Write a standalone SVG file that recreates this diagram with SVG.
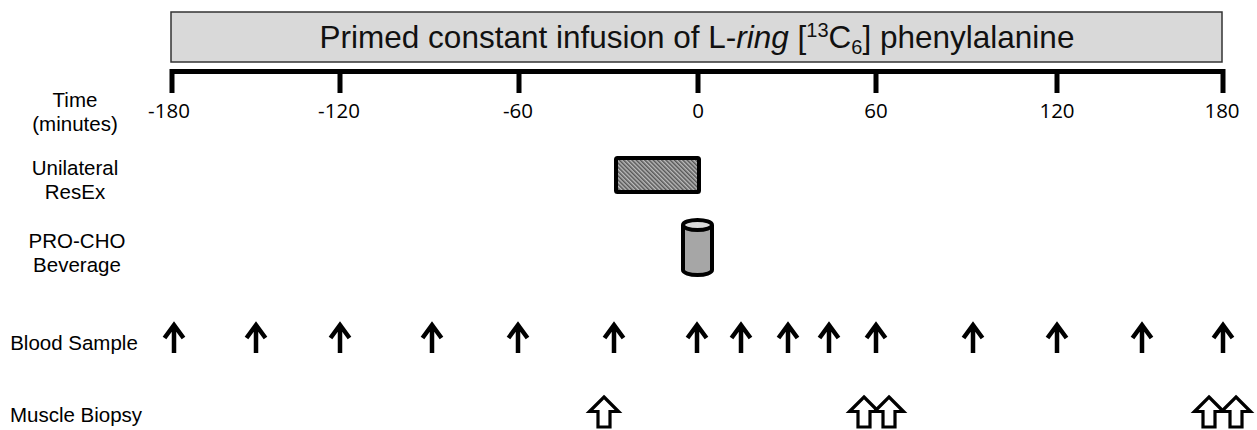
<svg xmlns="http://www.w3.org/2000/svg" width="1257" height="430" viewBox="0 0 1257 430">
<style>
.lbl{font-family:"Liberation Sans",Arial,sans-serif;font-size:20.5px;fill:#000;text-anchor:middle}
.tick{font-family:"Open Sans","Liberation Sans",sans-serif;font-size:20.5px;fill:#000;text-anchor:middle}
.title{font-family:"Liberation Sans",Arial,sans-serif;font-size:31.5px;fill:#111;text-anchor:middle}
.axis{fill:none;stroke:#000;stroke-width:5}
.blood{fill:none;stroke:#000;stroke-width:4.5;stroke-linejoin:miter}
.biopsy{fill:#fff;stroke:#000;stroke-width:3.2;stroke-linejoin:miter}
</style>
<defs>
<pattern id="hatch" patternUnits="userSpaceOnUse" width="3" height="3" patternTransform="rotate(-45)">
<rect width="3" height="3" fill="#bcbcbc"/>
<line x1="0.8" y1="0" x2="0.8" y2="3" stroke="#444" stroke-width="1.3"/>
</pattern>
<path id="bArrow" class="blood" d="M0,32 V4 M-9.5,17 L0,4 L9.5,17"/>
<polygon id="oArrow" class="biopsy" points="0,0 14.5,14.5 6,14.5 6,30 -6,30 -6,14.5 -14.5,14.5"/>
</defs>

<g id="infusion">
<rect x="171" y="12" width="1051" height="50" fill="#d9d9d9" stroke="#333" stroke-width="1.5"/>
<text class="title" x="697" y="48">Primed constant infusion of L-<tspan font-style="italic">ring</tspan> [<tspan dy="-11" font-size="20">13</tspan><tspan dy="11">C</tspan><tspan dy="6" font-size="20">6</tspan><tspan dy="-6">] phenylalanine</tspan></text>
</g>

<g id="time-axis">
<path class="axis" d="M172,93 V71.5 H1223 V93"/>
<path class="axis" d="M340,71.5 V93 M519,71.5 V93 M698,71.5 V93 M876,71.5 V93 M1057,71.5 V93"/>
<text class="tick" x="169" y="118">-180</text>
<text class="tick" x="339" y="118">-120</text>
<text class="tick" x="518" y="118">-60</text>
<text class="tick" x="698" y="118">0</text>
<text class="tick" x="876" y="118">60</text>
<text class="tick" x="1057" y="118">120</text>
<text class="tick" x="1222" y="118">180</text>
</g>

<g id="row-labels">
<text class="lbl" x="75" y="107">Time</text>
<text class="lbl" x="75" y="131">(minutes)</text>
<text class="lbl" x="75" y="175">Unilateral</text>
<text class="lbl" x="75" y="199">ResEx</text>
<text class="lbl" x="77" y="248">PRO-CHO</text>
<text class="lbl" x="77" y="272">Beverage</text>
<text class="lbl" x="74" y="350">Blood Sample</text>
<text class="lbl" x="76" y="422">Muscle Biopsy</text>
</g>

<g id="resex">
<rect x="616" y="158" width="83" height="34" rx="1.5" fill="url(#hatch)" stroke="#000" stroke-width="4"/>
</g>

<g id="beverage">
<path d="M683,225 V270 A14.5,5 0 0 0 712,270 V225" fill="#a6a6a6" stroke="#000" stroke-width="4"/>
<ellipse cx="697.5" cy="225" rx="14.5" ry="5" fill="#d9d9d9" stroke="#000" stroke-width="4"/>
</g>

<g id="blood-samples">
<use href="#bArrow" x="174" y="321"/>
<use href="#bArrow" x="256" y="321"/>
<use href="#bArrow" x="340" y="321"/>
<use href="#bArrow" x="432" y="321"/>
<use href="#bArrow" x="518" y="321"/>
<use href="#bArrow" x="614" y="321"/>
<use href="#bArrow" x="697" y="321"/>
<use href="#bArrow" x="741" y="321"/>
<use href="#bArrow" x="788" y="321"/>
<use href="#bArrow" x="829" y="321"/>
<use href="#bArrow" x="876" y="321"/>
<use href="#bArrow" x="973" y="321"/>
<use href="#bArrow" x="1057" y="321"/>
<use href="#bArrow" x="1142" y="321"/>
<use href="#bArrow" x="1223" y="321"/>
</g>

<g id="muscle-biopsies">
<use href="#oArrow" x="604" y="397"/>
<use href="#oArrow" x="864" y="397"/>
<use href="#oArrow" x="889" y="397"/>
<use href="#oArrow" x="1209" y="397"/>
<use href="#oArrow" x="1236" y="397"/>
</g>
</svg>
